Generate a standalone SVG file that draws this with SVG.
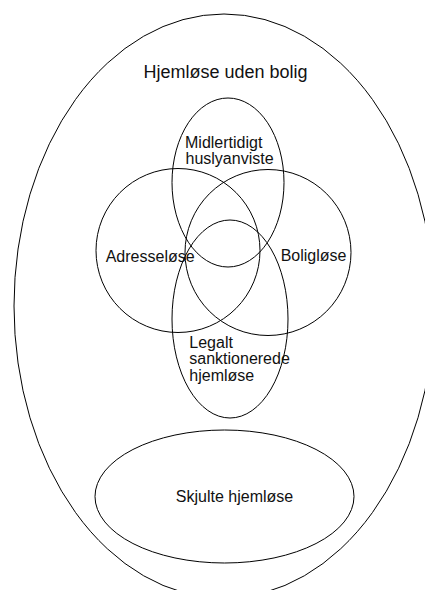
<svg xmlns="http://www.w3.org/2000/svg" width="425" height="590" viewBox="0 0 425 590">
<style>
.s{fill:none;stroke:#000;stroke-width:1}
text{font-family:"Liberation Sans",Arial,sans-serif;font-size:16px;fill:#111}
</style>
<rect width="425" height="590" fill="#fff"/>
<g id="outer">
<ellipse class="s" cx="224" cy="306" rx="210" ry="292"/>
<text x="225.5" y="78" text-anchor="middle" style="font-size:18px">Hjemløse uden bolig</text>
</g>
<g id="midlertidigt">
<ellipse class="s" cx="228" cy="182.5" rx="56" ry="84.5"/>
<text x="185" y="148.3">Midlertidigt</text>
<text x="185.5" y="163.8">huslyanviste</text>
</g>
<g id="adresselose">
<circle class="s" cx="178" cy="250.5" r="82"/>
<text x="105.7" y="261.5">Adresseløse</text>
</g>
<g id="boliglose">
<circle class="s" cx="268" cy="252.5" r="83"/>
<text x="280.7" y="261">Boligløse</text>
</g>
<g id="legalt">
<ellipse class="s" cx="230" cy="319" rx="58" ry="99"/>
<text x="189.3" y="347.7">Legalt</text>
<text x="189.3" y="364.3">sanktionerede</text>
<text x="189.3" y="381">hjemløse</text>
</g>
<g id="skjulte">
<ellipse class="s" cx="224.5" cy="496.5" rx="129.5" ry="66.5"/>
<text x="234.5" y="501.7" text-anchor="middle">Skjulte hjemløse</text>
</g>
<g id="connectors"/>
</svg>
